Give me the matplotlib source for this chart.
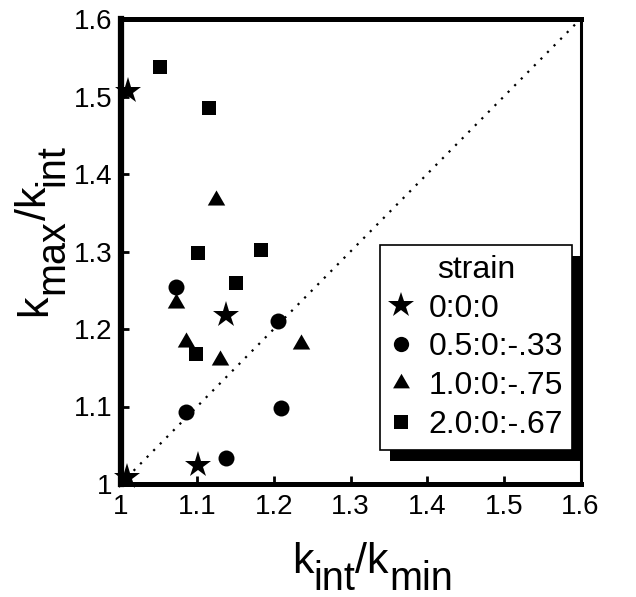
import matplotlib
matplotlib.use("Agg")
import matplotlib.pyplot as plt
from matplotlib.lines import Line2D
from matplotlib.patches import Rectangle

plt.rcParams['font.family'] = ['Liberation Sans', 'DejaVu Sans']

# strain groups
strain_labels = ["0:0:0", "0.5:0:-.33", "1.0:0:-.75", "2.0:0:-.67"]
tri = [(0.0, 0.577), (-0.5, -0.289), (0.5, -0.289)]  # equilateral triangle marker
markers = ["*", "o", tri, "s"]
sizes = [20, 11.5, 14.5, 9.8]
legend_sizes = [19, 11, 14, 9.5]

# k_int/k_min (x) and k_max/k_int (y) for each strain group
x_star = [1.010, 1.138, 1.101, 1.009]
y_star = [1.507, 1.218, 1.025, 1.009]
x_circ = [1.072, 1.206, 1.086, 1.209, 1.138]
y_circ = [1.254, 1.210, 1.093, 1.098, 1.034]
x_tri = [1.124, 1.072, 1.086, 1.130, 1.236]
y_tri = [1.367, 1.234, 1.183, 1.160, 1.181]
x_sq = [1.052, 1.116, 1.101, 1.183, 1.151, 1.099]
y_sq = [1.538, 1.485, 1.298, 1.302, 1.259, 1.168]

xs = [x_star, x_circ, x_tri, x_sq]
ys = [y_star, y_circ, y_tri, y_sq]

ticks = [1.0, 1.1, 1.2, 1.3, 1.4, 1.5, 1.6]
tick_labels = ["1", "1.1", "1.2", "1.3", "1.4", "1.5", "1.6"]

W_PX, H_PX = 636, 597
fig = plt.figure(figsize=(W_PX / 100, H_PX / 100), dpi=100)
ax = fig.add_axes([120.5 / W_PX, 113 / H_PX, 460 / W_PX, 465 / H_PX])

# 1:1 reference line
ax.plot([1.0, 1.6], [1.0, 1.6], color='k', lw=1.6, ls=(0, (1, 3.2)), zorder=1)

for xv, yv, m, s in zip(xs, ys, markers, sizes):
    ax.plot(xv, yv, ls='none', marker=m, ms=s, color='k', mew=0,
            zorder=3, clip_on=False)

ax.set_xlim(1.0, 1.6)
ax.set_ylim(1.0, 1.6)
ax.set_xticks(ticks)
ax.set_xticklabels(tick_labels)
ax.set_yticks(ticks)
ax.set_yticklabels(tick_labels)
ax.tick_params(direction='in', length=6, width=2, labelsize=20)
ax.tick_params(axis='x', pad=7)
ax.tick_params(axis='y', pad=6)
ax.spines['left'].set_linewidth(4.5)
ax.spines['top'].set_linewidth(3.6)
ax.spines['bottom'].set_linewidth(3.6)
ax.spines['right'].set_linewidth(2.2)

# legend with a heavy drop shadow
handles = [Line2D([], [], ls='none', marker=m, ms=s, color='k', mew=0)
           for m, s in zip(markers, legend_sizes)]
leg = ax.legend(handles, strain_labels, title='strain', loc='upper left',
                bbox_to_anchor=(0.565, 0.514), borderaxespad=0,
                fontsize=23, title_fontsize=23, frameon=True, fancybox=False,
                edgecolor='k', framealpha=1, handlelength=0.7,
                handletextpad=0.5, labelspacing=0.28, borderpad=0.3)
leg.get_frame().set_linewidth(1.2)
leg.set_zorder(6)

fig.canvas.draw()
renderer = fig.canvas.get_renderer()
bb = leg.get_frame().get_window_extent(renderer)
shadow = Rectangle(((bb.x0 + 10) / W_PX, (bb.y0 - 11) / H_PX),
                   bb.width / W_PX, bb.height / H_PX,
                   transform=fig.transFigure, facecolor='k', edgecolor='none',
                   zorder=5.5, clip_on=False)
ax.add_artist(shadow)


def ratio_label(pieces, x0, y0, vertical):
    """Lay out a label with full-height subscripts, piece by piece (pixels)."""
    pos = 0.0
    for text, size, drop in pieces:
        if vertical:
            px, py, rot = x0 + drop, y0 + pos, 90
        else:
            px, py, rot = x0 + pos, y0 - drop, 0
        t = fig.text(px / W_PX, py / H_PX, text, fontsize=size, rotation=rot,
                     rotation_mode='anchor', ha='left', va='baseline')
        ext = t.get_window_extent(renderer)
        pos += ext.height if vertical else ext.width


main_size, sub_size, drop = 31, 28.5, 17
ratio_label([("k", main_size, 0), ("int", sub_size, drop),
             ("/k", main_size, 0), ("min", sub_size, drop)],
            292, H_PX - 573, vertical=False)
ratio_label([("k", main_size, 0), ("max", sub_size, drop),
             ("/k", main_size, 0), ("int", sub_size, drop)],
            46, H_PX - 316, vertical=True)

fig.savefig("out.png", dpi=100)
